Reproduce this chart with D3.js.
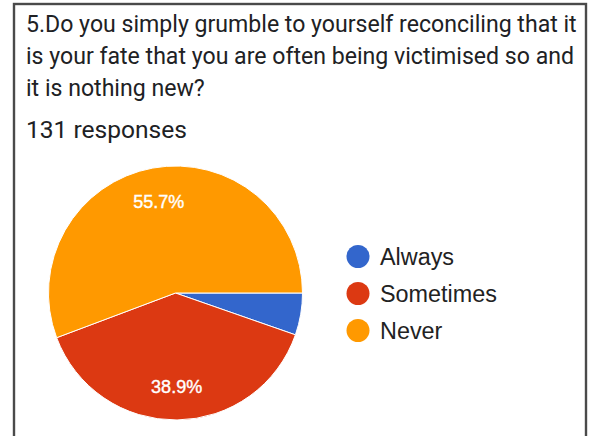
<!DOCTYPE html>
<html>
<head>
<meta charset="utf-8">
<script src="https://cdn.jsdelivr.net/npm/d3@7/dist/d3.min.js"></script>
<style>
  html, body { margin: 0; padding: 0; background: #fff; }
  svg { display: block; }
</style>
</head>
<body>
<svg id="chart" width="590" height="436"></svg>
<script>
// Survey question, answer options and response counts (131 total)
const titleLines = [
  "5.Do you simply grumble to yourself reconciling that it",
  "is your fate that you are often being victimised so and",
  "it is nothing new?"
];
const responsesLabel = "131 responses";
const categories = ["Always", "Sometimes", "Never"];
const counts = [7, 51, 73];
const percentLabels = ["5.3%", "38.9%", "55.7%"];
const colors = ["#3366cc", "#dc3912", "#ff9900"];

const svg = d3.select("#chart");
const font = "Roboto, 'Noto Sans', Arial, sans-serif";
const arial = "'Liberation Sans', Arial, sans-serif";

// Scale a text selection's font size so the given node reaches a target width
function fitWidth(sel, node, base, target) {
  sel.attr("font-size", base);
  const w = node.getComputedTextLength();
  sel.attr("font-size", base * target / w);
}

// Card frame (open at the bottom edge of the view)
svg.append("rect")
  .attr("x", 14).attr("y", 4)
  .attr("width", 572).attr("height", 460)
  .attr("fill", "#fff")
  .attr("stroke", "#4a4a4a")
  .attr("stroke-width", 2.4);

// Question text
const titleText = svg.append("g").selectAll("text")
  .data(titleLines)
  .join("text")
  .attr("x", 26)
  .attr("y", (d, i) => 32 + i * 32)
  .attr("font-family", font)
  .attr("fill", "#202124")
  .text(d => d);
fitWidth(titleText, titleText.nodes()[0], 18, 551);

const resp = svg.append("text")
  .attr("x", 26).attr("y", 138)
  .attr("font-family", font)
  .attr("fill", "#202124")
  .text(responsesLabel);
fitWidth(resp, resp.node(), 19, 161);

// Pie
const cx = 175.5, cy = 293, radius = 127;
const data = categories.map((c, i) => ({ name: c, value: counts[i], label: percentLabels[i], color: colors[i] }));

const pie = d3.pie()
  .value(d => d.value)
  .sort(null)
  .startAngle(Math.PI / 2)
  .endAngle(Math.PI / 2 + 2 * Math.PI);

const arc = d3.arc().innerRadius(0).outerRadius(radius);
const labelArc = d3.arc().innerRadius(radius * 0.735).outerRadius(radius * 0.735);

const arcs = pie(data);
const pieG = svg.append("g").attr("transform", `translate(${cx},${cy})`);

pieG.selectAll("path")
  .data(arcs)
  .join("path")
  .attr("d", arc)
  .attr("fill", d => d.data.color)
  .attr("stroke", "#fff")
  .attr("stroke-width", 1);

// Percent labels on slices large enough to hold them
pieG.selectAll("text")
  .data(arcs.filter(d => (d.endAngle - d.startAngle) > 0.5))
  .join("text")
  .attr("transform", d => `translate(${labelArc.centroid(d)})`)
  .attr("text-anchor", "middle")
  .attr("dy", "0.36em")
  .attr("font-family", arial)
  .attr("font-size", 18)
  .attr("fill", "#fff")
  .attr("stroke", "#fff")
  .attr("stroke-width", 0.4)
  .text(d => d.data.label);

// Legend
const legendY = d3.scaleBand()
  .domain(categories)
  .range([238, 349]);
const items = svg.append("g").selectAll("g")
  .data(data)
  .join("g")
  .attr("transform", d => `translate(358,${legendY(d.name) + legendY.bandwidth() / 2})`);
items.append("circle")
  .attr("r", 11.5)
  .attr("fill", d => d.color);
const legendText = items.append("text")
  .attr("x", 22)
  .attr("dy", "0.36em")
  .attr("font-family", arial)
  .attr("fill", "#222")
  .text(d => d.name);
fitWidth(legendText, legendText.nodes()[1], 20, 117);
</script>
</body>
</html>
